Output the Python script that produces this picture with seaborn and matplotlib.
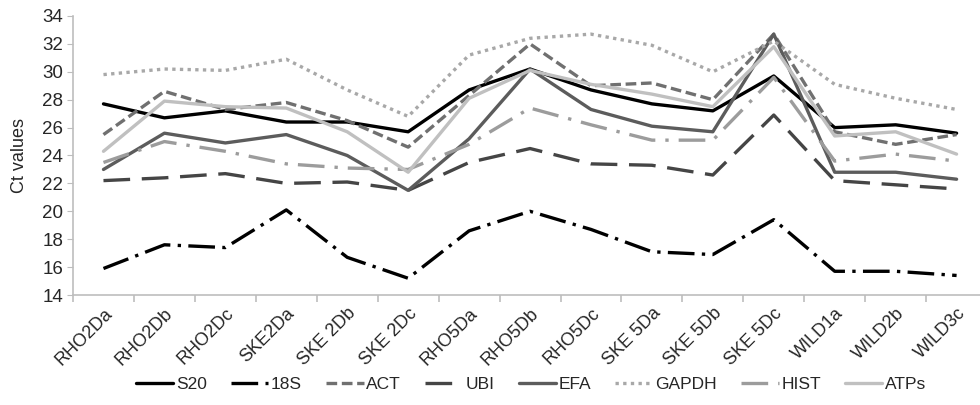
# =============================================================================
# 1. Configuración: Importación de librerías
# =============================================================================
import pandas as pd
import matplotlib
matplotlib.use('Agg')
import matplotlib.pyplot as plt
from matplotlib.ticker import FixedLocator
import seaborn as sns

# =============================================================================
# 2. Datos: valores Ct por muestra y gen
# =============================================================================
muestras = ['RHO2Da', 'RHO2Db', 'RHO2Dc', 'SKE2Da', 'SKE 2Db', 'SKE 2Dc',
            'RHO5Da', 'RHO5Db', 'RHO5Dc', 'SKE 5Da', 'SKE 5Db', 'SKE 5Dc',
            'WILD1a', 'WILD2b', 'WILD3c']

genes = ['S20', '18S', 'ACT', 'UBI', 'EFA', 'GAPDH', 'HIST', 'ATPs']

ct_s20 = [27.7, 26.7, 27.2, 26.4, 26.4, 25.7, 28.7, 30.2, 28.7, 27.7, 27.2, 29.7, 26.0, 26.2, 25.6]
ct_18s = [15.9, 17.6, 17.4, 20.1, 16.7, 15.2, 18.6, 20.0, 18.7, 17.1, 16.9, 19.4, 15.7, 15.7, 15.4]
ct_act = [25.5, 28.6, 27.3, 27.8, 26.5, 24.6, 28.3, 32.0, 29.0, 29.2, 28.0, 32.7, 25.7, 24.8, 25.5]
ct_ubi = [22.2, 22.4, 22.7, 22.0, 22.1, 21.5, 23.5, 24.5, 23.4, 23.3, 22.6, 26.9, 22.2, 21.9, 21.6]
ct_efa = [23.0, 25.6, 24.9, 25.5, 24.0, 21.5, 25.2, 30.2, 27.3, 26.1, 25.7, 32.7, 22.8, 22.8, 22.3]
ct_gapdh = [29.8, 30.2, 30.1, 30.9, 28.7, 26.8, 31.2, 32.4, 32.7, 31.9, 30.0, 32.2, 29.1, 28.1, 27.3]
ct_hist = [23.5, 25.0, 24.3, 23.4, 23.1, 23.0, 24.8, 27.4, 26.2, 25.1, 25.1, 29.6, 23.6, 24.1, 23.6]
ct_atps = [24.3, 27.9, 27.5, 27.4, 25.7, 22.8, 28.1, 30.1, 29.1, 28.4, 27.5, 31.8, 25.4, 25.7, 24.1]

series = [ct_s20, ct_18s, ct_act, ct_ubi, ct_efa, ct_gapdh, ct_hist, ct_atps]

# Formato largo para seaborn
filas = []
for gen, valores in zip(genes, series):
    for muestra, v in zip(muestras, valores):
        filas.append({'Muestra': muestra, 'Gen': gen, 'Ct': v})
df = pd.DataFrame(filas)

# Estilos (escala de grises, como el original)
colores = {'S20': '#000000', '18S': '#000000', 'ACT': '#707070', 'UBI': '#454545',
           'EFA': '#5c5c5c', 'GAPDH': '#a8a8a8', 'HIST': '#9c9c9c', 'ATPs': '#c0c0c0'}
trazos = {'S20': '', '18S': (8, 2.2, 1, 2.2), 'ACT': (3.2, 1.4), 'UBI': (8, 3.5),
          'EFA': '', 'GAPDH': (1, 1.3), 'HIST': (8, 3, 1, 3), 'ATPs': ''}

# =============================================================================
# 3. Visualización
# =============================================================================
sns.set_style('white')
plt.rcParams['font.family'] = ['Liberation Sans', 'DejaVu Sans']

fig = plt.figure(figsize=(9.8, 4.05), dpi=100)
ax = fig.add_axes([0.0745, 0.2716, 0.9327, 0.6889])

sns.lineplot(data=df, x='Muestra', y='Ct', hue='Gen', style='Gen',
             hue_order=genes, style_order=genes, palette=colores, dashes=trazos,
             sort=False, linewidth=2.4, ax=ax)

ax.set_xlim(-0.5, len(muestras) - 0.5)
ax.set_ylim(14, 34)
ax.set_yticks(range(14, 35, 2))
ax.set_ylabel('Ct values', fontsize=13, labelpad=10)
ax.set_xlabel('')

# Ejes al estilo Excel
for lado in ['top', 'right']:
    ax.spines[lado].set_visible(False)
for lado in ['left', 'bottom']:
    ax.spines[lado].set_color('#bdbdbd')
    ax.spines[lado].set_linewidth(1.2)

ax.tick_params(axis='y', which='major', length=4, color='#bdbdbd', labelsize=13.5, pad=3, direction='out', left=True)
ax.tick_params(axis='x', which='major', length=0, labelsize=13, pad=7)
ax.xaxis.set_minor_locator(FixedLocator([i - 0.5 for i in range(len(muestras) + 1)]))
ax.tick_params(axis='x', which='minor', length=5, color='#bdbdbd', width=1.2, direction='out', bottom=True)
plt.setp(ax.get_xticklabels(), rotation=45, ha='right', rotation_mode='anchor')
ax.grid(False)

# Leyenda inferior sin marco
ax.legend(loc='center', bbox_to_anchor=(0.542, 0.05), bbox_transform=fig.transFigure,
          ncol=8, frameon=False, fontsize=12.5, handlelength=2.15, handletextpad=0.15,
          columnspacing=1.4)

fig.savefig('out.png', dpi=100)
